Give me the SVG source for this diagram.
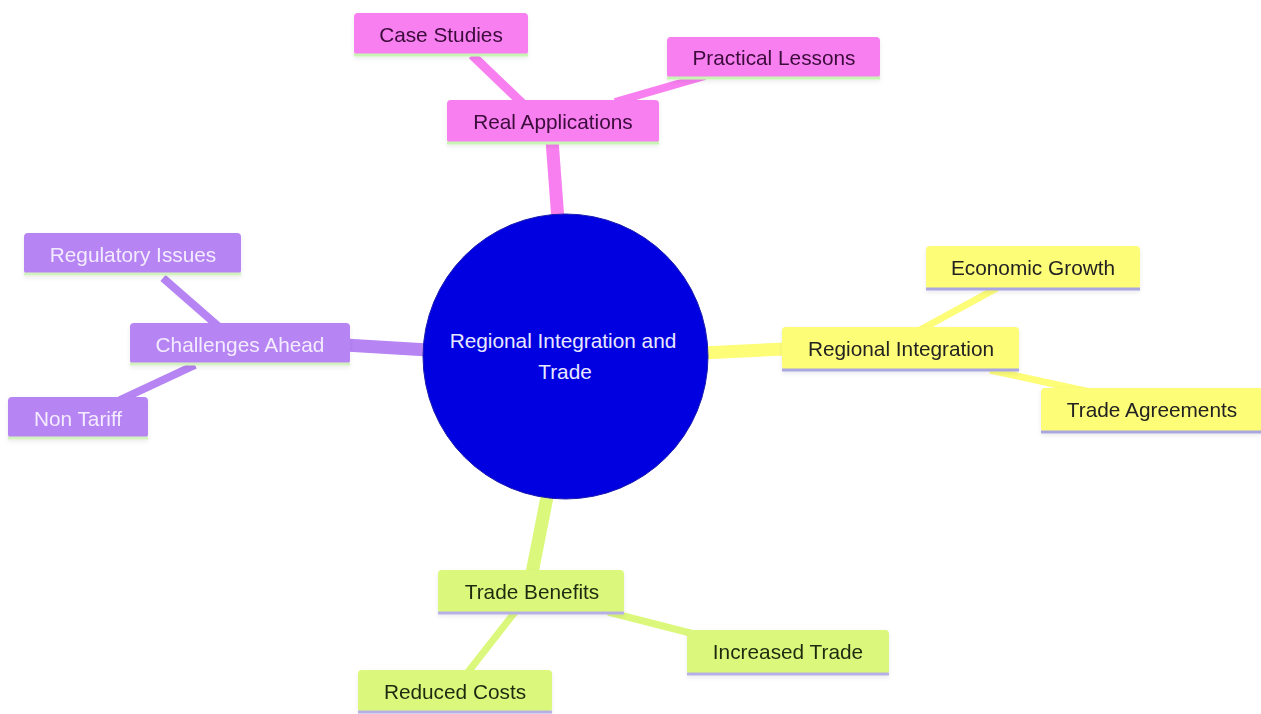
<svg xmlns="http://www.w3.org/2000/svg" width="1261" height="714" viewBox="0 0 1261 714">
<defs>
<style>
text{font-family:"Liberation Sans",Arial,sans-serif;font-size:20.8px;text-anchor:middle;dominant-baseline:central}
.pink rect.b{fill:#f87ff0}.pink text{fill:#3a0a3a}.pink .u{stroke:#c8f5b4}
.purple rect.b{fill:#b784f4}.purple text{fill:#f3ecff}.purple .u{stroke:#d4f2bf}
.yellow rect.b{fill:#fdfd78}.yellow text{fill:#222}.yellow .u{stroke:#a9a6e0}
.green rect.b{fill:#dbf87c}.green text{fill:#1e2a10}.green .u{stroke:#b7b0e6}
.u{stroke-width:3;fill:none}
.e{fill:none;stroke-linecap:butt}
</style>
<filter id="sh" x="-10%" y="-20%" width="120%" height="150%"><feDropShadow dx="0" dy="2" stdDeviation="2" flood-color="#000" flood-opacity="0.08"/></filter>
</defs>
<rect width="1261" height="714" fill="#fff"/>
<g id="connectors">
<line class="e" x1="558" y1="220" x2="552" y2="140" stroke="#f87ff0" stroke-width="13"/>
<line class="e" x1="522" y1="103" x2="472" y2="55" stroke="#f87ff0" stroke-width="9"/>
<line class="e" x1="615" y1="102" x2="705" y2="76" stroke="#f87ff0" stroke-width="8"/>
<line class="e" x1="428" y1="350" x2="345" y2="345" stroke="#b784f4" stroke-width="13"/>
<line class="e" x1="218" y1="326" x2="163" y2="278" stroke="#b784f4" stroke-width="8"/>
<line class="e" x1="195" y1="365" x2="120" y2="400" stroke="#b784f4" stroke-width="8"/>
<line class="e" x1="702" y1="353" x2="785" y2="349" stroke="#fdfd78" stroke-width="13"/>
<line class="e" x1="920" y1="330" x2="997" y2="288" stroke="#fdfd78" stroke-width="7"/>
<line class="e" x1="990" y1="370" x2="1090" y2="392" stroke="#fdfd78" stroke-width="7"/>
<line class="e" x1="548" y1="492" x2="532" y2="573" stroke="#dbf87c" stroke-width="13"/>
<line class="e" x1="608" y1="612" x2="702" y2="636" stroke="#dbf87c" stroke-width="7"/>
<line class="e" x1="515" y1="612" x2="468" y2="672" stroke="#dbf87c" stroke-width="7"/>
</g>
<g id="root">
<circle cx="565.5" cy="356.5" r="142.5" fill="#0000e0" stroke="#1a1ab0" stroke-width="1"/>
<text x="563" y="340" fill="#e8e8ff">Regional Integration and</text>
<text x="565" y="371" fill="#e8e8ff">Trade</text>
</g>
<g id="real-applications" class="pink" filter="url(#sh)">
<rect class="b" x="447" y="100" width="212" height="43" rx="4"/>
<line class="u" x1="447" y1="143" x2="659" y2="143"/>
<text x="553" y="121">Real Applications</text>
</g>
<g id="case-studies" class="pink" filter="url(#sh)">
<rect class="b" x="354" y="13" width="174" height="42" rx="4"/>
<line class="u" x1="354" y1="55" x2="528" y2="55"/>
<text x="441" y="34">Case Studies</text>
</g>
<g id="practical-lessons" class="pink" filter="url(#sh)">
<rect class="b" x="667" y="37" width="213" height="41" rx="4"/>
<line class="u" x1="667" y1="78" x2="880" y2="78"/>
<text x="774" y="57">Practical Lessons</text>
</g>
<g id="challenges-ahead" class="purple" filter="url(#sh)">
<rect class="b" x="130" y="323" width="220" height="41" rx="4"/>
<line class="u" x1="130" y1="364" x2="350" y2="364"/>
<text x="240" y="344">Challenges Ahead</text>
</g>
<g id="regulatory-issues" class="purple" filter="url(#sh)">
<rect class="b" x="24" y="233" width="217" height="41" rx="4"/>
<line class="u" x1="24" y1="274" x2="241" y2="274"/>
<text x="133" y="254">Regulatory Issues</text>
</g>
<g id="non-tariff" class="purple" filter="url(#sh)">
<rect class="b" x="8" y="397" width="140" height="41" rx="4"/>
<line class="u" x1="8" y1="438" x2="148" y2="438"/>
<text x="78" y="418">Non Tariff</text>
</g>
<g id="regional-integration" class="yellow" filter="url(#sh)">
<rect class="b" x="782" y="327" width="237" height="43" rx="4"/>
<line class="u" x1="782" y1="370" x2="1019" y2="370"/>
<text x="901" y="348">Regional Integration</text>
</g>
<g id="economic-growth" class="yellow" filter="url(#sh)">
<rect class="b" x="926" y="246" width="214" height="43" rx="4"/>
<line class="u" x1="926" y1="289" x2="1140" y2="289"/>
<text x="1033" y="267">Economic Growth</text>
</g>
<g id="trade-agreements" class="yellow" filter="url(#sh)">
<rect class="b" x="1041" y="388" width="222" height="44" rx="4"/>
<line class="u" x1="1041" y1="432" x2="1263" y2="432"/>
<text x="1152" y="409">Trade Agreements</text>
</g>
<g id="trade-benefits" class="green" filter="url(#sh)">
<rect class="b" x="438" y="570" width="186" height="43" rx="4"/>
<line class="u" x1="438" y1="613" x2="624" y2="613"/>
<text x="532" y="591">Trade Benefits</text>
</g>
<g id="increased-trade" class="green" filter="url(#sh)">
<rect class="b" x="687" y="630" width="202" height="44" rx="4"/>
<line class="u" x1="687" y1="674" x2="889" y2="674"/>
<text x="788" y="651">Increased Trade</text>
</g>
<g id="reduced-costs" class="green" filter="url(#sh)">
<rect class="b" x="358" y="670" width="194" height="42" rx="4"/>
<line class="u" x1="358" y1="712" x2="552" y2="712"/>
<text x="455" y="691">Reduced Costs</text>
</g>
</svg>
